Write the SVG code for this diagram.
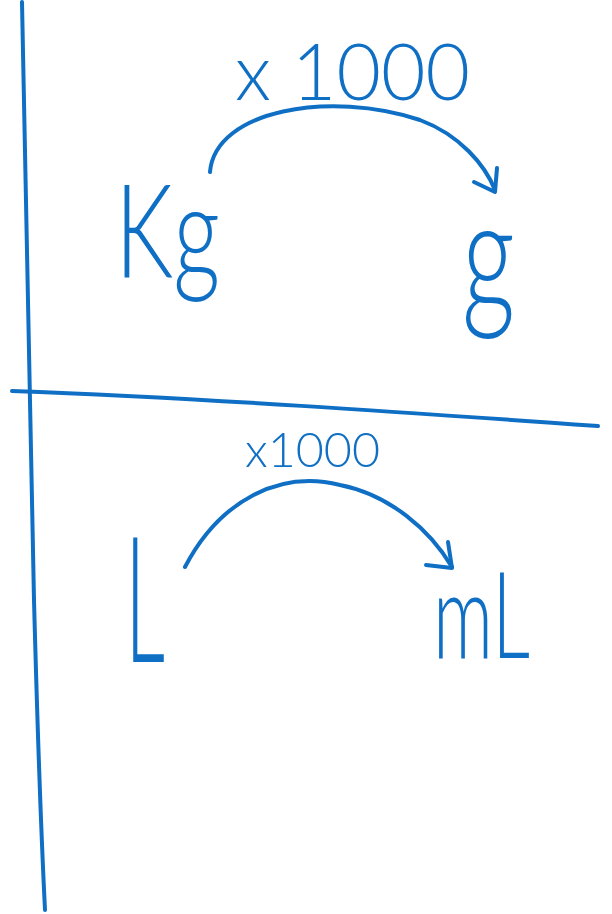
<svg xmlns="http://www.w3.org/2000/svg" width="612" height="914" viewBox="0 0 612 914">
<style>
.ink{fill:none;stroke:#0F6FC4;stroke-width:4;stroke-linecap:round;stroke-linejoin:round}
.t{fill:#0F6FC4;font-family:Lato,"Liberation Sans",sans-serif;font-weight:300}
</style>
<rect width="612" height="914" fill="#fff"/>
<g id="connectors">
<path class="ink" d="M22,2 C25,200 30,400 34,600 C38,750 42,850 45,910"/>
<path class="ink" d="M12,391 C200,398 400,412 598,426"/>
<path class="ink" d="M210,172 C215,110 330,90 420,120 C460,135 485,165 495,190"/>
<path class="ink" d="M474,182 L495,192 L497,168"/>
<path class="ink" d="M185,567 C220,500 280,470 340,485 C390,495 430,530 452,567"/>
<path class="ink" d="M426,565 L452,568 L448,542"/>
</g>
<g id="top-label"><text class="t" x="235" y="100" font-size="78" textLength="235" lengthAdjust="spacingAndGlyphs">x 1000</text></g>
<g id="kg"><text class="t" x="115" y="278" font-size="130" textLength="105" lengthAdjust="spacingAndGlyphs">Kg</text></g>
<g id="g"><text class="t" transform="translate(462,310) scale(1,1.35)" x="0" y="0" font-size="115" textLength="53" lengthAdjust="spacingAndGlyphs">g</text></g>
<g id="bottom-label"><text class="t" x="245" y="467" font-size="48" textLength="135" lengthAdjust="spacingAndGlyphs">x1000</text></g>
<g id="L"><text class="t" x="125" y="662" font-size="175" textLength="40" lengthAdjust="spacingAndGlyphs">L</text></g>
<g id="mL"><text class="t" x="433" y="658" font-size="120" textLength="97" lengthAdjust="spacingAndGlyphs">mL</text></g>
</svg>
